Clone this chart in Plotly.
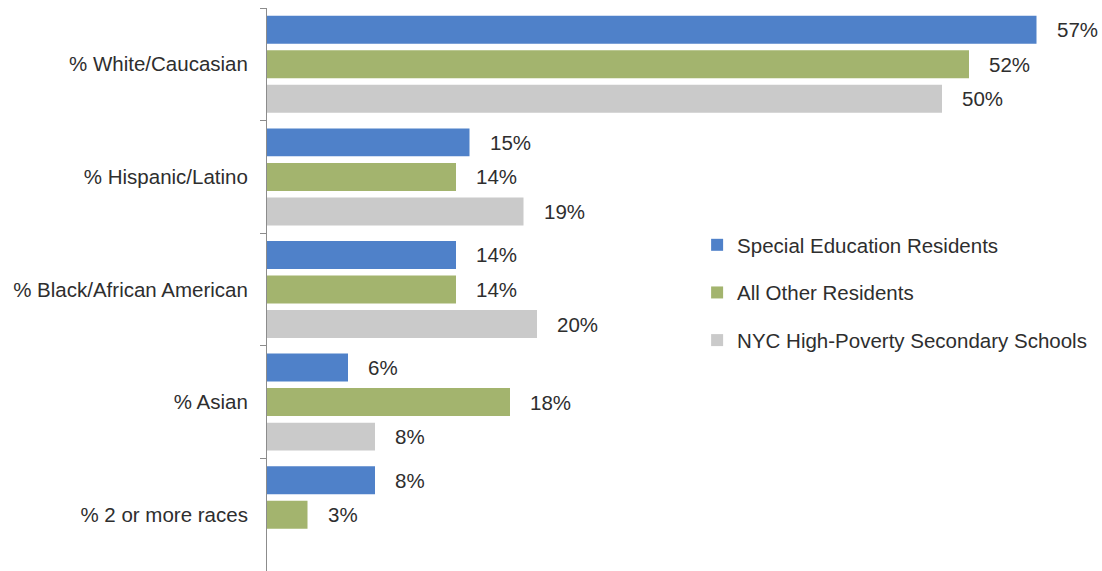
import plotly.graph_objects as go

# Race/ethnicity breakdown (percent) by population group
categories = ["% White/Caucasian", "% Hispanic/Latino", "% Black/African American",
              "% Asian", "% 2 or more races"]
series_names = ["Special Education Residents", "All Other Residents",
                "NYC High-Poverty Secondary Schools"]
special_ed = [57, 15, 14, 6, 8]
all_other = [52, 14, 14, 18, 3]
nyc_high_poverty = [50, 19, 20, 8, None]

series_values = [special_ed, all_other, nyc_high_poverty]
bar_colors = ["#4f81c9", "#a3b46e", "#cacaca"]

FONT = "Liberation Sans"
FONT_SIZE = 20.5
TEXT_COLOR = "#2e2e2e"
BARGAP = 0.08

fig = go.Figure()
for name, vals, col in zip(series_names, series_values, bar_colors):
    fig.add_trace(go.Bar(
        y=categories, x=vals, name=name, orientation="h",
        marker=dict(color=col, line=dict(width=0)),
        legendgroup=name,
    ))

# value labels just past the end of each bar
slot = (1 - BARGAP) / len(series_values)
annotations = []
for s, vals in enumerate(series_values):
    offset = (s - (len(series_values) - 1) / 2) * slot
    for i, v in enumerate(vals):
        if v is None:
            continue
        annotations.append(dict(
            x=v, y=i + offset, xref="x", yref="y",
            text=f"{v}%", showarrow=False, xanchor="left", yanchor="middle",
            xshift=18, font=dict(family=FONT, size=FONT_SIZE, color=TEXT_COLOR),
        ))

fig.update_layout(
    width=1102, height=571,
    margin=dict(l=267, r=25, t=8, b=0),
    plot_bgcolor="white", paper_bgcolor="white",
    barmode="group", bargap=BARGAP, bargroupgap=0.19,
    font=dict(family=FONT, size=FONT_SIZE, color=TEXT_COLOR),
    showlegend=True,
    legend=dict(
        x=0.531, y=0.6146, xanchor="left", yanchor="top",
        font=dict(family=FONT, size=FONT_SIZE, color=TEXT_COLOR),
        tracegroupgap=18, bgcolor="rgba(0,0,0,0)",
    ),
    annotations=annotations,
)
fig.update_xaxes(range=[0, 60], visible=False, showgrid=False, zeroline=False)
fig.update_yaxes(
    autorange="reversed", showline=True, linecolor="#8c8c8c", linewidth=1,
    ticks="outside", tickson="boundaries", ticklen=6, tickcolor="#8c8c8c",
    showgrid=False, ticklabelstandoff=14,
    tickfont=dict(family=FONT, size=FONT_SIZE, color=TEXT_COLOR),
)

fig.write_html("out.html")
